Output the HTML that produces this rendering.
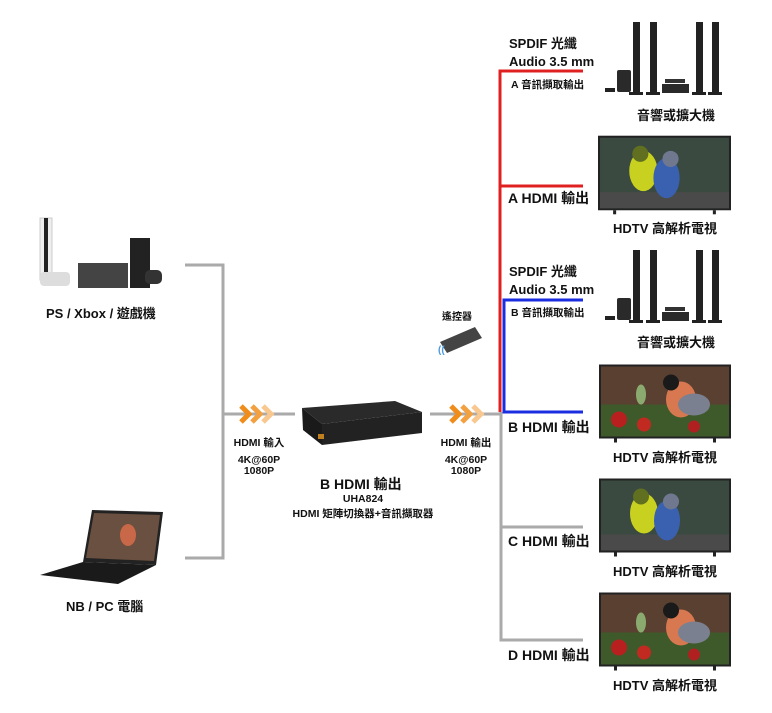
<!DOCTYPE html>
<html><head><meta charset="utf-8"><style>
html,body{margin:0;padding:0;background:#fff}
svg{display:block}
text{font-family:"Liberation Sans","Noto Sans CJK TC",sans-serif;font-weight:bold;fill:#111}
</style></head><body>
<svg width="772" height="713" viewBox="0 0 772 713" xmlns="http://www.w3.org/2000/svg">
<defs>
<symbol id="bull" viewBox="0 0 132 78">
<rect x="0" y="0" width="132" height="74" fill="#222"/>
<rect x="2" y="2" width="128" height="70" fill="#5a4030"/>
<rect x="2" y="40" width="128" height="32" fill="#3f5a2a"/>
<circle cx="20" cy="55" r="8" fill="#b82020"/><circle cx="45" cy="60" r="7" fill="#c02a20"/><circle cx="95" cy="62" r="6" fill="#b02020"/>
<ellipse cx="42" cy="30" rx="5" ry="10" fill="#8aaa70"/>
<ellipse cx="82" cy="35" rx="15" ry="18" fill="#d87850"/>
<ellipse cx="95" cy="40" rx="16" ry="11" fill="#7a8090"/>
<circle cx="72" cy="18" r="8" fill="#1a1a1a"/>
<rect x="15" y="74" width="3" height="4" fill="#222"/><rect x="114" y="74" width="3" height="4" fill="#222"/>
</symbol>
<symbol id="parrot" viewBox="0 0 132 78">
<rect x="0" y="0" width="132" height="74" fill="#222"/>
<rect x="2" y="2" width="128" height="70" fill="#3a4a40"/>
<rect x="2" y="56" width="128" height="16" fill="#4a4a4a"/>
<ellipse cx="45" cy="35" rx="14" ry="20" fill="#c8d020"/>
<circle cx="42" cy="18" r="8" fill="#607020"/>
<ellipse cx="68" cy="42" rx="13" ry="20" fill="#3a60b0"/>
<circle cx="72" cy="23" r="8" fill="#707890"/>
<rect x="15" y="74" width="3" height="4" fill="#222"/><rect x="114" y="74" width="3" height="4" fill="#222"/>
</symbol>
<symbol id="spk" viewBox="0 0 126 75">
<rect x="0" y="66" width="10" height="4" fill="#222"/>
<rect x="12" y="48" width="14" height="22" rx="2" fill="#2a2a2a"/>
<rect x="28" y="0" width="7" height="72" fill="#222"/><rect x="24" y="70" width="14" height="3" fill="#222"/>
<rect x="45" y="0" width="7" height="72" fill="#222"/><rect x="41" y="70" width="14" height="3" fill="#222"/>
<rect x="60" y="57" width="20" height="4" fill="#333"/><rect x="57" y="62" width="27" height="9" fill="#2a2a2a"/>
<rect x="91" y="0" width="7" height="72" fill="#222"/><rect x="87" y="70" width="14" height="3" fill="#222"/>
<rect x="107" y="0" width="7" height="72" fill="#222"/><rect x="103" y="70" width="14" height="3" fill="#222"/>
</symbol>
<symbol id="chev" viewBox="0 0 36 20">
<polyline points="2,2 10,10 2,18" fill="none" stroke="#f08c1a" stroke-width="5"/>
<polyline points="13,2 21,10 13,18" fill="none" stroke="#f3a040" stroke-width="5"/>
<polyline points="24,2 32,10 24,18" fill="none" stroke="#f8c890" stroke-width="5"/>
</symbol>
</defs>
<g stroke="#aaa" stroke-width="3" fill="none">
<polyline points="185,265 223,265 223,558 185,558"/>
<line x1="223" y1="414" x2="295" y2="414"/>
<line x1="430" y1="414" x2="500" y2="414"/>
<polyline points="501,412 501,640 583,640"/>
<line x1="501" y1="527" x2="583" y2="527"/>
</g>
<g stroke="#e02020" stroke-width="3" fill="none">
<polyline points="583,71 500,71 500,412"/>
<line x1="500" y1="186" x2="583" y2="186"/>
</g>
<g stroke="#1a2ee0" stroke-width="3" fill="none">
<polyline points="583,300 504,300 504,412 583,412"/>
</g>
<use href="#chev" x="239" y="404" width="36" height="20"/>
<use href="#chev" x="449" y="404" width="36" height="20"/>
<polygon points="302,408 395,401 422,412 322,424" fill="#2a2a2a"/>
<polygon points="302,408 322,424 322,445 303,430" fill="#1a1a1a"/>
<polygon points="322,424 422,412 422,433 322,445" fill="#222"/>
<rect x="318" y="434" width="6" height="5" fill="#c08020"/>
<polygon points="440,342 475,327 482,338 447,353" fill="#444"/>
<text x="438" y="353" font-size="10" style="fill:#4a9ae0">((</text>
<rect x="40" y="218" width="12" height="62" fill="#eee" stroke="#ccc"/><rect x="44" y="218" width="4" height="62" fill="#222"/>
<rect x="40" y="272" width="30" height="14" rx="4" fill="#ddd"/>
<rect x="78" y="263" width="50" height="25" fill="#444"/>
<rect x="130" y="238" width="20" height="50" fill="#222"/>
<rect x="145" y="270" width="17" height="14" rx="5" fill="#333"/>
<polygon points="92,510 163,512 156,565 83,562" fill="#222"/>
<polygon points="94,513 160,515 154,561 86,558" fill="#6a5040"/>
<ellipse cx="128" cy="535" rx="8" ry="11" fill="#c86848"/>
<polygon points="40,575 83,562 156,565 118,584" fill="#1a1a1a"/>
<use href="#spk" x="605" y="22" width="126" height="75"/>
<use href="#spk" x="605" y="250" width="126" height="75"/>
<use href="#parrot" x="598" y="135" width="133" height="80"/>
<use href="#bull" x="599" y="364" width="132" height="79"/>
<use href="#parrot" x="599" y="478" width="132" height="79"/>
<use href="#bull" x="599" y="592" width="132" height="79"/>
<g font-size="13">
<text x="509" y="48">SPDIF 光纖</text>
<text x="509" y="66">Audio 3.5 mm</text>
<text x="511" y="88" font-size="10.5">A 音訊擷取輸出</text>
<text x="637" y="120">音響或擴大機</text>
<text x="508" y="203" font-size="14">A HDMI 輸出</text>
<text x="613" y="233">HDTV 高解析電視</text>
<text x="509" y="276">SPDIF 光纖</text>
<text x="509" y="294">Audio 3.5 mm</text>
<text x="511" y="316" font-size="10.5">B 音訊擷取輸出</text>
<text x="637" y="347">音響或擴大機</text>
<text x="508" y="432" font-size="14">B HDMI 輸出</text>
<text x="613" y="462">HDTV 高解析電視</text>
<text x="508" y="546" font-size="14">C HDMI 輸出</text>
<text x="613" y="576">HDTV 高解析電視</text>
<text x="508" y="660" font-size="14">D HDMI 輸出</text>
<text x="613" y="690">HDTV 高解析電視</text>
<text x="46" y="318">PS / Xbox / 遊戲機</text>
<text x="66" y="611">NB / PC 電腦</text>
<text x="442" y="320" font-size="10">遙控器</text>
<text x="320" y="489" font-size="14">B HDMI 輸出</text>
</g>
<g font-size="10.5" text-anchor="middle">
<text x="259" y="446">HDMI 輸入</text>
<text x="259" y="463">4K@60P</text>
<text x="259" y="474">1080P</text>
<text x="466" y="446">HDMI 輸出</text>
<text x="466" y="463">4K@60P</text>
<text x="466" y="474">1080P</text>
<text x="363" y="502">UHA824</text>
<text x="363" y="517">HDMI 矩陣切換器+音訊擷取器</text>
</g>
</svg>
</body></html>
